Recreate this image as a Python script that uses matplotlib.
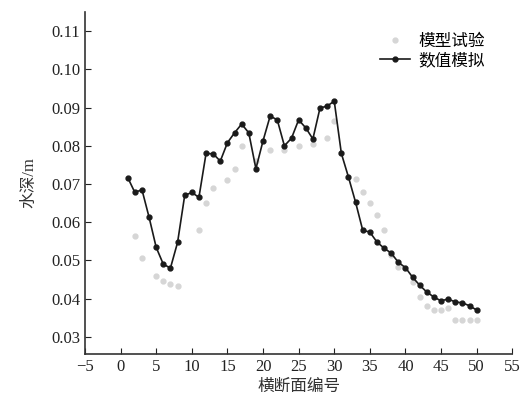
import numpy as np
import matplotlib.pyplot as plt
from matplotlib.ticker import FormatStrFormatter

# cross-section number and water depth (m)
sim_x = list(range(1, 51))
sim_depth = [0.0717, 0.0678, 0.0685, 0.0613, 0.0534, 0.0490, 0.0480, 0.0547, 0.0670, 0.0678,
             0.0665, 0.0780, 0.0779, 0.0760, 0.0808, 0.0834, 0.0857, 0.0834, 0.0740, 0.0813,
             0.0878, 0.0868, 0.0800, 0.0820, 0.0868, 0.0847, 0.0818, 0.0899, 0.0904, 0.0917,
             0.0780, 0.0718, 0.0652, 0.0579, 0.0574, 0.0548, 0.0532, 0.0519, 0.0495, 0.0481,
             0.0456, 0.0435, 0.0417, 0.0404, 0.0394, 0.0399, 0.0391, 0.0389, 0.0381, 0.0370]

exp_x = [2, 3, 5, 6, 7, 8, 11, 12, 13, 15, 16, 17, 19, 21, 23, 25, 27, 29, 30,
         33, 34, 35, 36, 37, 38, 39, 41, 42, 43, 44, 45, 46, 47, 48, 49, 50]
exp_depth = [0.0565, 0.0506, 0.0458, 0.0445, 0.0437, 0.0433, 0.0580, 0.0650, 0.0690, 0.0710,
             0.0740, 0.0800, 0.0760, 0.0790, 0.0790, 0.0800, 0.0805, 0.0820, 0.0865,
             0.0714, 0.0680, 0.0650, 0.0618, 0.0580, 0.0513, 0.0482, 0.0443, 0.0404, 0.0380,
             0.0370, 0.0370, 0.0375, 0.0345, 0.0344, 0.0344, 0.0343]

x_ticks = list(range(-5, 56, 5))
y_ticks = [0.03, 0.04, 0.05, 0.06, 0.07, 0.08, 0.09, 0.10, 0.11]

plt.rcParams['font.family'] = ['Liberation Serif', 'Noto Sans CJK SC']
plt.rcParams['axes.unicode_minus'] = True

fig = plt.figure(figsize=(5.23, 4.05), dpi=100)
ax = fig.add_axes([0.1625, 0.126, 0.817, 0.844])

ax.plot(exp_x, exp_depth, linestyle='none', marker='o', markersize=3.5,
        color='#d6d6d6', label='模型试验')
ax.plot(sim_x, sim_depth, color='#1a1a1a', linewidth=1.2, marker='o', markersize=3.5,
        label='数值模拟')

ax.set_xlim(-5, 55)
ax.set_ylim(0.0255, 0.115)
ax.set_xticks(x_ticks)
ax.set_yticks(y_ticks)
ax.yaxis.set_major_formatter(FormatStrFormatter('%.2f'))
ax.tick_params(direction='in', length=4, labelsize=12, colors='#222222')

for side in ('top', 'right'):
    ax.spines[side].set_visible(False)
for side in ('left', 'bottom'):
    ax.spines[side].set_linewidth(1.2)
    ax.spines[side].set_color('#333333')

ax.set_xlabel('横断面编号', fontsize=12, labelpad=3, color='#333333')
ax.set_ylabel('水深/m', fontsize=12, labelpad=10, color='#333333')

ax.legend(loc='upper right', bbox_to_anchor=(0.97, 0.98), frameon=False, fontsize=12,
          handlelength=1.8, handletextpad=0.5, labelspacing=0.2)

fig.savefig('out.png', dpi=100)
